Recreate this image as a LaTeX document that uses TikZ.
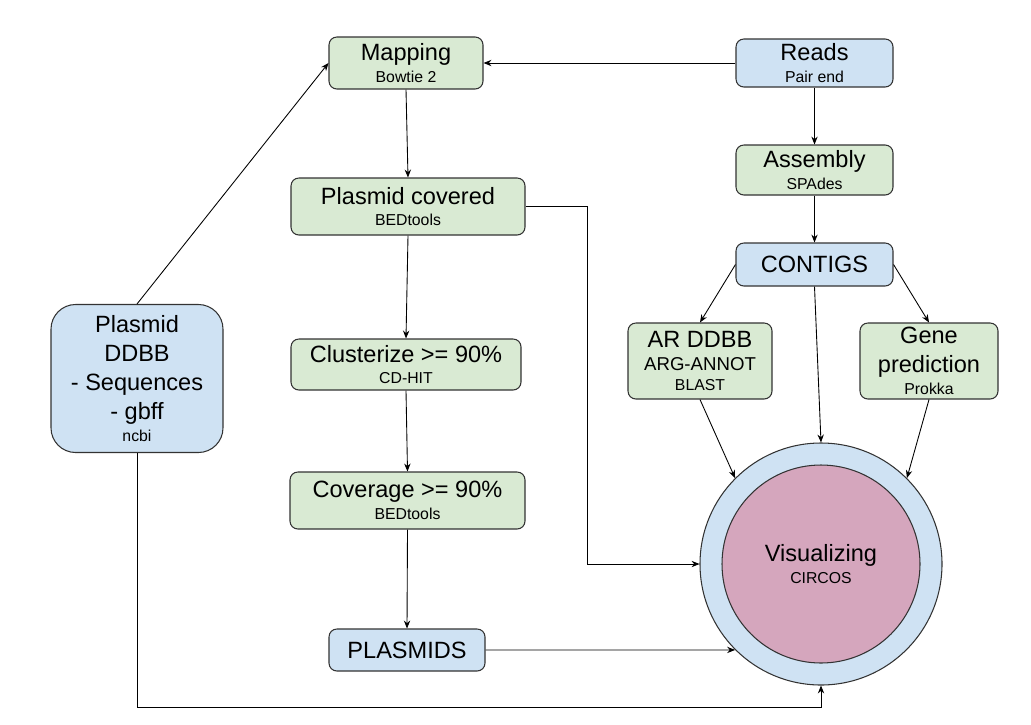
\documentclass[tikz,border=0pt]{standalone}
\usepackage{fontspec}
\setmainfont{Liberation Sans}
\usetikzlibrary{arrows.meta}

\definecolor{boxgreen}{HTML}{D9EAD3}
\definecolor{boxblue}{HTML}{CFE2F3}
\definecolor{circpink}{HTML}{D5A6BD}
\definecolor{boxedge}{HTML}{333333}

\newcommand\bigtxt{\fontsize{13.4}{16.4}\selectfont}
\newcommand\midtxt{\fontsize{10.6}{12.5}\selectfont}
\newcommand\smalltxt{\fontsize{9}{11}\selectfont}

\tikzset{
  box/.style={draw=boxedge, line width=0.6pt, rounded corners=4.5pt, align=center, inner sep=0pt, font=\bigtxt},
  greenbox/.style={box, fill=boxgreen},
  bluebox/.style={box, fill=boxblue},
  sz/.style 2 args={minimum width=#1*0.02cm, minimum height=#2*0.02cm},
  arr/.style={-{Stealth[length=4.5pt,width=3.6pt]}, line width=0.5pt, black},
}

\begin{document}
\begin{tikzpicture}[x=0.02cm, y=-0.02cm]
\useasboundingbox (0,0) rectangle (1031,724);

% left column: plasmid database

\node [bluebox, sz={172}{148}, rounded corners=14pt] (ddbb) at (137,378.5)
   {Plasmid\\DDBB\\- Sequences\\- gbff\\[-4pt]{\smalltxt ncbi}};

% middle column: mapping pipeline

\node [greenbox, sz={154}{52}] (map) at (406,63) {Mapping\\[-4pt]{\smalltxt Bowtie 2}};
\node [greenbox, sz={234}{57}] (cover) at (408,206.5) {Plasmid covered\\[-4pt]{\smalltxt BEDtools}};
\node [greenbox, sz={230}{51}] (clust) at (406,364.5) {Clusterize >= 90\%\\[-4pt]{\smalltxt CD-HIT}};
\node [greenbox, sz={235}{57}] (cov) at (407.5,500.5) {Coverage >= 90\%\\[-4pt]{\smalltxt BEDtools}};
\node [bluebox, sz={156}{42}] (plasmids) at (407,650) {PLASMIDS};

% right column: assembly pipeline

\node [bluebox, sz={157}{48}] (reads) at (814.5,63) {Reads\\[-4pt]{\smalltxt Pair end}};
\node [greenbox, sz={157}{50}] (asm) at (814.5,170) {Assembly\\[-4pt]{\smalltxt SPAdes}};
\node [bluebox, sz={157}{43}] (contigs) at (814.5,264.5) {CONTIGS};
\node [greenbox, sz={144}{76}] (ar) at (700,361)
   {AR DDBB\\[-3pt]{\midtxt ARG-ANNOT}\\[-5pt]{\smalltxt BLAST}};
\node [greenbox, sz={138}{76}] (gene) at (929,361)
   {Gene\\prediction\\[-4pt]{\smalltxt Prokka}};

% visualizing circle

\node [circle, draw=boxedge, line width=0.6pt, fill=boxblue, inner sep=0pt, minimum size=242*0.02cm] (visout) at (821,564) {};
\node [circle, draw=boxedge, line width=0.6pt, fill=circpink, inner sep=0pt, minimum size=198*0.02cm,
       align=center, font=\bigtxt] (vis) at (821,564) {Visualizing\\[-4pt]{\smalltxt CIRCOS}};

% connectors

\draw [arr] (reads.west) -- (map.east);
\draw [arr] (ddbb.north) -- (map.west);
\draw [arr] (map.south) -- (cover.north);
\draw [arr] (cover.south) -- (clust.north);
\draw [arr] (clust.south) -- (cov.north);
\draw [arr] (cov.south) -- (plasmids.north);

\draw [arr] (reads.south) -- (asm.north);
\draw [arr] (asm.south) -- (contigs.north);
\draw [arr] (contigs.west) -- (ar.north);
\draw [arr] (contigs.east) -- (gene.north);

\draw [arr] (contigs.south) -- (visout.north);
\draw [arr] (ar.south) -- (visout.135);
\draw [arr] (gene.south) -- (visout.45);
\draw [arr] (cover.east) -- ++(62,0) |- (visout.west);
\draw [arr] (plasmids.east) -- (visout.225);
\draw [arr] (ddbb.south) -- ++(0,254.5) -| (visout.south);

\end{tikzpicture}
\end{document}
